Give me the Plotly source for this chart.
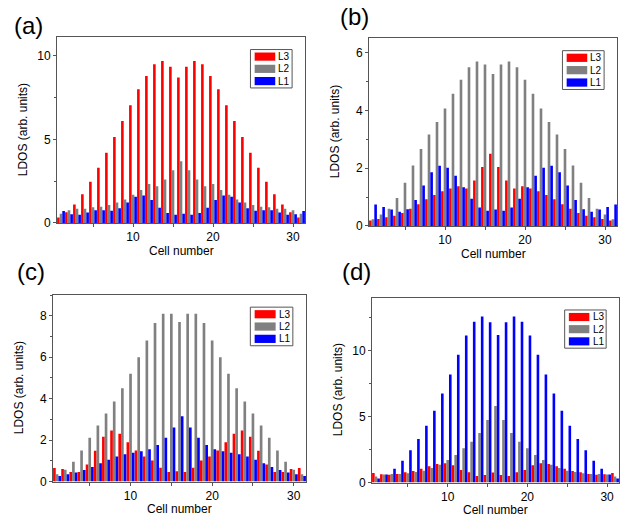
import plotly.graph_objects as go

cells = list(range(1, 32))

a_L3 = [0.33, 0.65, 1.1, 1.72, 2.47, 3.3, 4.2, 5.15, 6.1, 7.05, 8.0, 8.8, 9.5, 9.7, 9.35, 8.7,
        9.35, 9.7, 9.5, 8.8, 8.0, 7.05, 6.1, 5.15, 4.2, 3.3, 2.47, 1.72, 1.1, 0.65, 0.33]
a_L2 = [0.55, 0.76, 0.86, 0.86, 0.94, 0.98, 1.08, 1.23, 1.4, 1.69, 1.98, 2.33, 2.2, 2.6, 3.15, 3.7,
        3.15, 2.6, 2.2, 2.33, 1.98, 1.69, 1.4, 1.23, 1.08, 0.98, 0.94, 0.86, 0.86, 0.76, 0.55]
a_L1 = [0.72, 0.53, 0.49, 0.63, 0.76, 0.76, 0.74, 0.88, 1.23, 1.57, 1.65, 1.37, 0.92, 0.6, 0.5, 0.55,
        0.5, 0.6, 0.92, 1.37, 1.65, 1.57, 1.23, 0.88, 0.74, 0.76, 0.76, 0.63, 0.49, 0.53, 0.72]

b_L3 = [0.19, 0.24, 0.3, 0.35, 0.45, 0.6, 0.75, 0.93, 1.07, 1.2, 1.3, 1.38, 1.3, 1.58, 2.04, 2.5,
        2.04, 1.58, 1.3, 1.38, 1.3, 1.2, 1.07, 0.93, 0.75, 0.6, 0.45, 0.35, 0.3, 0.24, 0.19]
b_L2 = [0.23, 0.4, 0.6, 0.97, 1.5, 2.1, 2.67, 3.17, 3.6, 4.07, 4.58, 5.07, 5.5, 5.7, 5.6, 5.27,
        5.6, 5.7, 5.5, 5.07, 4.58, 4.07, 3.6, 3.17, 2.67, 2.1, 1.5, 0.97, 0.6, 0.4, 0.23]
b_L1 = [0.74, 0.66, 0.57, 0.49, 0.58, 0.9, 1.4, 1.86, 2.09, 2.02, 1.74, 1.34, 0.94, 0.64, 0.53, 0.57,
        0.53, 0.64, 0.94, 1.34, 1.74, 2.02, 2.09, 1.86, 1.4, 0.9, 0.58, 0.49, 0.57, 0.66, 0.74]

c_L3 = [0.65, 0.6, 0.46, 0.46, 0.82, 1.48, 2.16, 2.46, 2.3, 1.89, 1.5, 1.21, 1.02, 0.66, 0.46, 0.5,
        0.46, 0.66, 1.02, 1.21, 1.5, 1.89, 2.3, 2.46, 2.16, 1.48, 0.82, 0.46, 0.46, 0.6, 0.65]
c_L2 = [0.35, 0.57, 0.96, 1.5, 2.11, 2.7, 3.28, 3.86, 4.5, 5.2, 6.0, 6.8, 7.65, 8.1, 8.1, 7.7,
        8.1, 8.1, 7.65, 6.8, 6.0, 5.2, 4.5, 3.86, 3.28, 2.7, 2.11, 1.5, 0.96, 0.57, 0.35]
c_L1 = [0.27, 0.35, 0.43, 0.55, 0.7, 0.88, 1.05, 1.21, 1.32, 1.39, 1.46, 1.56, 1.76, 2.11, 2.61, 3.15,
        2.61, 2.11, 1.76, 1.56, 1.46, 1.39, 1.32, 1.21, 1.05, 0.88, 0.7, 0.55, 0.43, 0.35, 0.27]

d_L3 = [0.73, 0.63, 0.58, 0.65, 0.77, 0.88, 1.04, 1.24, 1.41, 1.46, 1.3, 0.95, 0.78, 0.5, 0.57, 0.75,
        0.57, 0.5, 0.78, 0.95, 1.3, 1.46, 1.41, 1.24, 1.04, 0.88, 0.77, 0.65, 0.58, 0.63, 0.73]
d_L2 = [0.45, 0.6, 0.65, 0.65, 0.7, 0.8, 0.9, 1.1, 1.35, 1.7, 2.08, 2.6, 3.1, 3.75, 4.75, 5.8,
        4.75, 3.75, 3.1, 2.6, 2.08, 1.7, 1.35, 1.1, 0.9, 0.8, 0.7, 0.65, 0.65, 0.6, 0.45]
d_L1 = [0.3, 0.6, 1.05, 1.65, 2.45, 3.3, 4.3, 5.45, 6.75, 8.2, 9.7, 11.15, 12.2, 12.6, 12.15, 11.2,
        12.15, 12.6, 12.2, 11.15, 9.7, 8.2, 6.75, 5.45, 4.3, 3.3, 2.45, 1.65, 1.05, 0.6, 0.3]

panel_labels = ["(a)", "(b)", "(c)", "(d)"]
series_names = ["L3", "L2", "L1"]
colors = ["#FF0000", "#808080", "#0000FF"]
y_ranges = [[0, 11.1], [0, 6.5], [0, 9.0], [0, 14.0]]
y_dticks = [5, 2, 2, 5]
panels = [(a_L3, a_L2, a_L1), (b_L3, b_L2, b_L1), (c_L3, c_L2, c_L1), (d_L3, d_L2, d_L1)]

W, H = 624, 527
# plot-area boxes in pixels: (left, right, top, bottom)
boxes = [(57, 305, 38, 226), (369, 617, 39, 229), (53, 306, 299, 488), (372, 619, 302, 489)]

FONT = "Arial, Liberation Sans, sans-serif"
fig = go.Figure()
layout = dict(width=W, height=H, margin=dict(l=0, r=0, t=0, b=0),
              paper_bgcolor="white", plot_bgcolor="white",
              barmode="group", bargap=0.02, bargroupgap=0.0,
              showlegend=False, font=dict(family=FONT, size=12, color="black"))
shapes, annotations = [], []

for i, (vals, box) in enumerate(zip(panels, boxes)):
    n = "" if i == 0 else str(i + 1)
    xa, ya = "x" + n, "y" + n
    for name, v, col in zip(series_names, vals, colors):
        fig.add_trace(go.Bar(x=cells, y=v, name=name, marker=dict(color=col, line=dict(width=0)),
                             xaxis=xa, yaxis=ya, offsetgroup=name))
    l, r, t, b = box
    axis_common = dict(showline=True, linecolor="#555555", linewidth=1, mirror=True,
                       ticks="outside", ticklen=3, tickcolor="#555555", showgrid=False, zeroline=False,
                       tickfont=dict(size=12, family=FONT))
    layout["xaxis" + n] = dict(axis_common, domain=[l / W, r / W], anchor=ya, range=[0.5, 31.5],
                               tickvals=[10, 20, 30],
                               minor=dict(tickvals=[5, 15, 25], ticks="outside", ticklen=3, tickcolor="#555555"))
    layout["yaxis" + n] = dict(axis_common, domain=[1 - b / H, 1 - t / H], anchor=xa,
                               range=y_ranges[i], dtick=y_dticks[i], tick0=0,
                               minor=dict(dtick=y_dticks[i] / 2, ticks="outside", ticklen=2, tickcolor="#555555"))
    # axis titles
    annotations.append(dict(text="Cell number", xref="paper", yref="paper",
                            x=(l + r) / 2 / W, y=1 - (b + 28) / H, showarrow=False,
                            font=dict(size=12, family=FONT), xanchor="center", yanchor="middle"))
    annotations.append(dict(text="LDOS (arb. units)", xref="paper", yref="paper",
                            x=(l - 34) / W, y=1 - (t + b) / 2 / H, showarrow=False, textangle=-90,
                            font=dict(size=12, family=FONT), xanchor="center", yanchor="middle"))
    # legend (drawn box)
    xd, yd = xa + " domain", ya + " domain"
    shapes.append(dict(type="rect", xref=xd, yref=yd, x0=0.78, x1=0.948, y0=0.728, y1=0.935,
                       line=dict(color="#555555", width=1), fillcolor="white", layer="above"))
    for k, (name, col) in enumerate(zip(series_names, colors)):
        yc = 0.897 - k * 0.066
        shapes.append(dict(type="rect", xref=xd, yref=yd, x0=0.797, x1=0.88, y0=yc - 0.022, y1=yc + 0.022,
                           line=dict(width=0), fillcolor=col, layer="above"))
        annotations.append(dict(text=name, xref=xd, yref=yd, x=0.885, y=yc, showarrow=False,
                                xanchor="left", yanchor="middle", font=dict(size=10, family=FONT)))

label_pos = [(28, 26), (354, 17), (31, 275), (356, 275)]
for lab, (px, py) in zip(panel_labels, label_pos):
    annotations.append(dict(text=lab, xref="paper", yref="paper", x=px / W, y=1 - py / H,
                            showarrow=False, xanchor="center", yanchor="middle",
                            font=dict(size=24, family=FONT)))

layout["shapes"] = shapes
layout["annotations"] = annotations
fig.update_layout(**layout)
fig.write_html("out.html")
